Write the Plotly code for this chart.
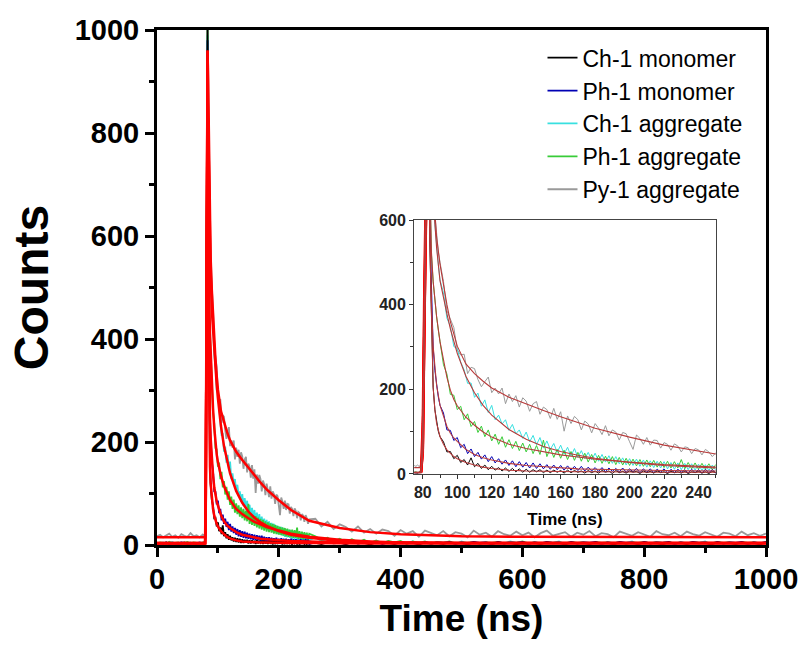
import plotly.graph_objects as go

# ---------------- time grids (ns) ----------------
t_data = (list(range(0, 80, 5)) + list(range(76, 91)) +
          list(range(92, 251, 2)) + list(range(260, 1001, 10)))
t_fit = [0, 79, 80, 81, 82, 83, 84, 85, 86, 87, 88, 90, 92, 94, 96, 98, 100,
         105, 110, 115, 120, 130, 140, 150, 160, 170, 180, 200, 220, 250,
         300, 350, 400, 500, 600, 800, 1000]

names = ["Ch-1 monomer", "Ph-1 monomer", "Ch-1 aggregate", "Ph-1 aggregate", "Py-1 aggregate"]
colors = ["#000000", "#0000b4", "#38e0e0", "#38cc38", "#9a9a9a"]

# ---------------- measured counts ----------------
ch1_mono = [2,4,3,5,2,3,4,2,3,5,2,4,3,2,4,3,
    3,2,4,6,70,380,740,1000,560,360,205,152,120,101,88,
    76,52,53,36,44,27,34,21,38,17,25,13,21,10,18,9,15,7,14,6,
    13,5,12,4,11,4,10,5,10,3, 9,3,9,4,8,2,9,3,8,4,
    7,2,8,3,7,2,8,4,7,1, 8,3,6,2,7,4,6,1,7,3,
    6,2,7,3,5,1,6,3,5,2, 6,1,5,3,6,2,5,1,6,3,
    4,2,5,3,4,2,5,3,4,1,5,3,4,2,5,3,4,1,5,3,4,2,5,3,4,1,5,3,4,2,
    5,3,4,1,5,3,4,2,5,3,4,1,5,3,4,2,5,3,4,1,5,3,4,2,5,3,4,1,5,3,
    4,2,5,3,4,1,5,3,4,2,5,3,4,1,5]
ph1_mono = [3,4,2,5,3,4,2,3,5,3,4,2,4,3,5,3,
    3,4,3,5,80,400,760,980,600,410,300,245,210,182,162,
    144,104,103,79,86,62,70,48,59,41,51,35,45,29,41,26,36,23,33,20,
    31,17,29,16,27,14,26,13,24,12, 22,11,21,10,20,9,19,9,18,8,
    18,7,16,7,15,6,15,5,14,6, 13,5,14,4,12,5,13,3,12,4,
    12,3,11,4,12,2,11,3,11,4, 10,2,11,3,10,2,11,3,10,2,
    6,3,7,4,5,2,6,3,5,4,6,2,5,3,6,4,5,2,6,3,5,4,6,2,5,3,6,4,5,2,
    6,3,5,4,6,2,5,3,6,4,5,2,6,3,5,4,6,2,5,3,6,4,5,2,6,3,5,4,6,2,
    5,3,6,4,5,2,6,3,5,4,6,2,5,3,6]
ch1_agg = [4,2,5,3,4,6,3,2,5,4,3,5,2,4,3,5,
    4,3,5,6,90,420,780,990,860,730,650,590,535,495,458,
    428,368,349,301,296,264,246,214,215,181,191,160,175,145,162,128,139,118,128,103,
    117,95,104,84,99,76,91,69,86,61, 78,58,72,51,68,47,63,42,60,39,
    55,36,51,33,49,30,46,28,43,25, 41,24,38,21,36,20,35,18,33,16,
    31,15,30,14,29,12,27,11,26,10, 25,10,24,9,23,8,22,8,21,9,
    15,8,13,6,11,5,10,4,9,3,8,5,7,2,6,4,7,3,5,1,6,4,5,2,7,3,5,4,6,1,
    5,3,7,4,5,2,6,3,5,4,7,2,5,3,6,4,5,1,6,3,5,4,7,2,5,3,6,4,5,2,
    6,3,5,4,7,2,5,3,6,4,5,1,6,3,5]
ph1_agg = [3,5,4,2,6,3,4,5,2,4,6,3,5,4,2,4,
    5,3,4,7,110,450,800,1000,700,520,455,410,372,340,312,
    258,236,188,186,152,160,128,142,112,124,98,113,88,104,78,94,70,88,63,81,
    60,77,55,73,52,70,48,67,46,80, 41,61,39,58,37,56,34,53,32,51,
    30,49,28,46,26,44,25,42,24,41, 22,39,21,37,20,35,19,34,18,33,
    17,32,16,30,15,30,14,29,14,34, 12,27,12,26,11,25,11,24,10,22,
    17,10,14,7,12,6,11,5,10,4,9,3,8,5,8,2,7,4,7,2,6,4,7,3,5,4,6,2,5,4,
    6,3,5,4,7,3,5,2,6,4,5,3,6,4,5,2,6,4,5,3,6,2,5,4,6,3,5,4,6,3,
    5,2,6,4,5,3,6,4,5,2,6,4,5,3,6]
py1_agg = [17,20,15,18,22,16,19,14,21,18,16,23,17,19,15,20,
    18,21,17,24,160,520,840,1000,930,780,690,610,570,525,500,
    455,386,364,346,293,281,283,237,252,249,223,206,218,229,192,203,189,203,166,189,
    171,185,158,180,172,148,166,171,141,158, 152,131,155,129,147,101,137,119,136,128,
    104,125,118,97,119,108,93,114,90,104, 99,80,98,95,76,58,92,84,70,86,
    68,80,79,61,74,70,56,71,66,52, 64,62,48,60,57,45,58,52,41,50,
    51,36,45,31,40,35,26,36,24,31,22,30,27,18,29,22,27,16,28,23,19,27,17,25,22,15,28,20,24,16,
    27,21,18,26,19,24,15,23,28,18,22,25,16,24,20,27,17,23,21,15,26,22,18,25,20,16,27,21,19,24,
    17,26,21,18,25,20,16,24,22,17,26,19,23,18,22]

# ---------------- fitted decays ----------------
ch1_mono_fit = [3,3,50,360,720,960,560,360,205,152,120,88,70,57,48,41,36,
    27,21,16,13,9,7,6,5,5,5,4,4,4,3,3,3,3,3,3,3]
ph1_mono_fit = [3,3,60,380,720,940,610,410,302,245,210,162,136,112,96,85,77,
    58,46,38,33,25,20,17,14,12,11,9,8,7,5,5,4,4,4,4,4]
ch1_agg_fit = [4,4,60,380,720,880,820,730,650,588,535,456,415,378,343,312,285,
    231,192,162,139,105,82,65,53,44,37,27,20,14,8,6,5,4,4,4,4]
ph1_agg_fit = [4,4,70,420,760,900,690,525,455,410,372,312,265,228,198,176,161,
    134,115,99,87,70,60,52,45,40,35,28,22,16,10,7,5,4,4,4,4]
py1_agg_fit = [15,15,120,480,800,960,900,780,680,610,560,495,445,400,360,328,302,
    260,237,219,203,181,165,150,135,121,108,87,68,47,33,25,21,17,16,15,15]

data = [ch1_mono, ph1_mono, ch1_agg, ph1_agg, py1_agg]
fits = [ch1_mono_fit, ph1_mono_fit, ch1_agg_fit, ph1_agg_fit, py1_agg_fit]
for d in data:
    assert len(d) == len(t_data), (len(d), len(t_data))
for f in fits:
    assert len(f) == len(t_fit)

FONT = "Arial, Liberation Sans, sans-serif"
fig = go.Figure()

draw_order = [4, 2, 3, 1, 0]
for i in draw_order:
    fig.add_trace(go.Scatter(x=t_data, y=data[i], mode="lines", name=names[i],
                             line=dict(color=colors[i], width=1.8),
                             legendrank=i + 1, xaxis="x", yaxis="y"))
for i in draw_order:
    fig.add_trace(go.Scatter(x=t_fit, y=fits[i], mode="lines", showlegend=False,
                             line=dict(color="#ff0000", width=2.5), xaxis="x", yaxis="y"))
for i in draw_order:
    fig.add_trace(go.Scatter(x=t_data, y=data[i], mode="lines", showlegend=False,
                             line=dict(color=colors[i], width=1), xaxis="x2", yaxis="y2"))
for i in draw_order:
    xs = [t for t in t_fit if 79 <= t <= 83]
    ys = [v for t, v in zip(t_fit, fits[i]) if 79 <= t <= 83]
    fig.add_trace(go.Scatter(x=xs, y=ys, mode="lines", showlegend=False,
                             line=dict(color="#ff0000", width=2.5), xaxis="x2", yaxis="y2"))
for i in draw_order:
    fig.add_trace(go.Scatter(x=t_fit, y=fits[i], mode="lines", showlegend=False,
                             line=dict(color="#b83a3a", width=1.1), xaxis="x2", yaxis="y2"))

main_axis = dict(showline=True, linecolor="black", linewidth=3, mirror=True,
                 ticks="outside", ticklen=9, tickwidth=3, tickcolor="black",
                 showgrid=False, zeroline=False,
                 tickfont=dict(family=FONT, size=29, color="black", weight="bold"))
fig.update_layout(
    width=810, height=650,
    margin=dict(l=157, r=35, t=30, b=105),
    paper_bgcolor="white", plot_bgcolor="white",
    xaxis=dict(**main_axis, range=[0, 1000], dtick=200, ticklabelstandoff=-3,
               minor=dict(dtick=100, ticks="outside", ticklen=5, tickwidth=2.5, tickcolor="black"),
               title=dict(text="Time (ns)", font=dict(family=FONT, size=37, color="black", weight="bold"),
                          standoff=12)),
    yaxis=dict(**main_axis, range=[0, 1000], dtick=200,
               minor=dict(dtick=100, ticks="outside", ticklen=5, tickwidth=2.5, tickcolor="black"),
               title=dict(text="Counts", font=dict(family=FONT, size=48, color="black", weight="bold"),
                          standoff=11)),
    xaxis2=dict(domain=[0.4223, 0.9175], anchor="y2", range=[75, 250], dtick=20,
                showline=True, linecolor="#444444", linewidth=1.2, mirror=True,
                ticks="outside", ticklen=4, tickwidth=1, tickcolor="#333333",
                minor=dict(dtick=10, ticks="outside", ticklen=3, tickwidth=1, tickcolor="#333333"),
                showgrid=False, zeroline=False,
                tickfont=dict(family=FONT, size=16, color="#222222", weight="bold"),
                title=dict(text="Time (ns)", font=dict(family=FONT, size=17, color="black", weight="bold"),
                           standoff=12)),
    yaxis2=dict(domain=[0.138, 0.631], anchor="x2", range=[0, 600], dtick=200,
                showline=True, linecolor="#444444", linewidth=1.2, mirror=True,
                ticks="outside", ticklen=4, tickwidth=1, tickcolor="#333333",
                minor=dict(dtick=100, ticks="outside", ticklen=3, tickwidth=1, tickcolor="#333333"),
                showgrid=False, zeroline=False,
                tickfont=dict(family=FONT, size=16, color="#222222", weight="bold")),
    legend=dict(x=0.633, y=0.988, xanchor="left", yanchor="top",
                bgcolor="rgba(0,0,0,0)", borderwidth=0,
                font=dict(family=FONT, size=23, color="black"),
                itemwidth=30, tracegroupgap=0),
    showlegend=True,
)

fig.write_html("out.html")
